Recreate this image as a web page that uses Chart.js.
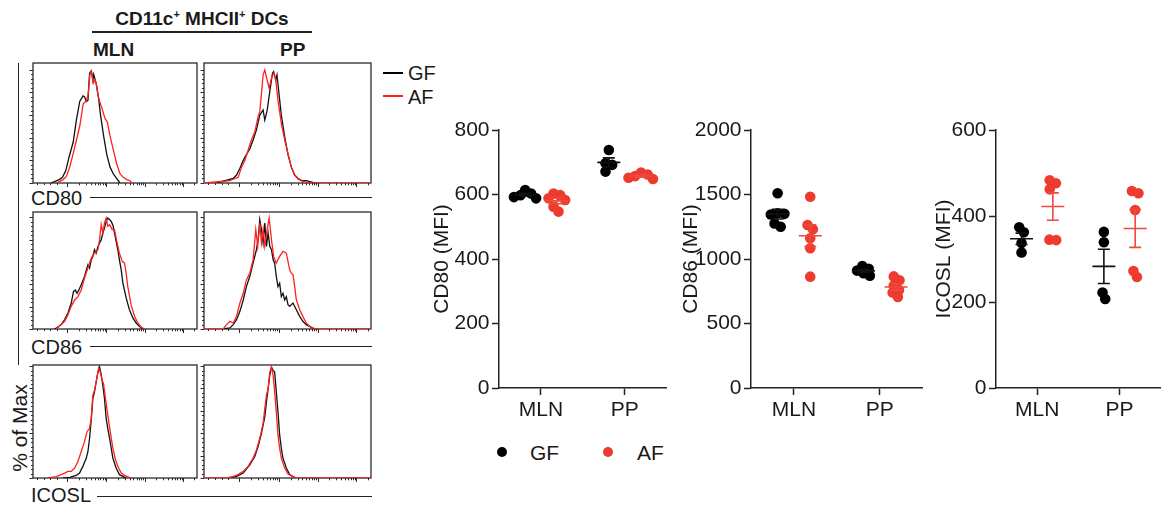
<!DOCTYPE html>
<html>
<head>
<meta charset="utf-8">
<title>CD11c+ MHCII+ DCs</title>
<script src="https://cdn.jsdelivr.net/npm/chart.js@4.4.1/dist/chart.umd.min.js"></script>
<style>
  html, body { margin:0; padding:0; background:#fff; }
  body { position:relative; width:1166px; height:506px; overflow:hidden;
         font-family:"Liberation Sans", Arial, Helvetica, sans-serif; color:#1a1a1a; }
  .txt { position:absolute; white-space:nowrap; line-height:1; }
  .rule { position:absolute; background:#222; }
  canvas { position:absolute; display:block; }
  sup { font-size:11px; line-height:0; vertical-align:7px; }
  .dot { position:absolute; width:10px; height:10px; border-radius:50%; }
</style>
</head>
<body>
<!-- histogram block headings -->
<div class="txt" style="left:92px;top:9px;width:220px;text-align:center;font-weight:bold;font-size:19px;">CD11c<sup>+</sup> MHCII<sup>+</sup> DCs</div>
<div class="rule" style="left:92px;top:31px;width:220px;height:1.5px;"></div>
<div class="txt" style="left:93px;top:40px;font-weight:bold;font-size:19px;">MLN</div>
<div class="txt" style="left:280px;top:40px;font-weight:bold;font-size:19px;">PP</div>

<!-- histogram legend -->
<div class="rule" style="left:383px;top:72px;width:20px;height:2px;background:#000;"></div>
<div class="txt" style="left:408px;top:63px;font-size:20px;">GF</div>
<div class="rule" style="left:383px;top:95px;width:20px;height:2px;background:#ff2020;"></div>
<div class="txt" style="left:408px;top:87px;font-size:20px;">AF</div>

<!-- row labels -->
<div class="txt" style="left:31px;top:188px;font-size:20px;">CD80</div>
<div class="rule" style="left:90px;top:197px;width:282px;height:1.2px;"></div>
<div class="txt" style="left:31px;top:337px;font-size:20px;">CD86</div>
<div class="rule" style="left:90px;top:346px;width:282px;height:1.2px;"></div>
<div class="txt" style="left:31px;top:485px;font-size:20px;">ICOSL</div>
<div class="rule" style="left:97px;top:496px;width:275px;height:1.2px;"></div>
<div class="rule" style="left:17.5px;top:63px;width:1.3px;height:302px;"></div>
<div class="txt" style="left:18.5px;top:428px;font-size:21px;transform:translate(-50%,-50%) rotate(-90deg);">% of Max</div>

<!-- histogram canvases -->
<canvas id="hMLN1" width="170" height="127" style="left:28px;top:62px;"></canvas>
<canvas id="hPP1"  width="173" height="127" style="left:199px;top:62px;"></canvas>
<canvas id="hMLN2" width="170" height="124" style="left:28px;top:211px;"></canvas>
<canvas id="hPP2"  width="173" height="124" style="left:199px;top:211px;"></canvas>
<canvas id="hMLN3" width="170" height="120" style="left:28px;top:364px;"></canvas>
<canvas id="hPP3"  width="173" height="120" style="left:199px;top:364px;"></canvas>

<!-- dot plots -->
<canvas id="cCD80"  width="244" height="318" style="left:428px;top:110px;"></canvas>
<canvas id="cCD86"  width="251" height="318" style="left:677px;top:110px;"></canvas>
<canvas id="cICOSL" width="236" height="318" style="left:930px;top:110px;"></canvas>

<!-- dot plot legend -->
<div class="dot" style="left:497px;top:447px;background:#000;"></div>
<div class="txt" style="left:530px;top:442px;font-size:21px;">GF</div>
<div class="dot" style="left:603px;top:447px;background:#ee3b2f;"></div>
<div class="txt" style="left:637px;top:442px;font-size:21px;">AF</div>

<script>
// ================= DATA =================
// Dot plots: categories and per-mouse MFI values
const dotCategories = ['MLN', 'PP'];
const cd80_GF = { MLN: [614, 603, 598, 592, 588],        PP: [738, 697, 692, 671] };
const cd80_AF = { MLN: [603, 598, 588, 583, 562, 547],   PP: [668, 662, 657, 652, 648] };
const cd86_GF = { MLN: [1510, 1355, 1350, 1345, 1275, 1250], PP: [945, 925, 910, 890, 870] };
const cd86_AF = { MLN: [1483, 1264, 1230, 1160, 1083, 863],  PP: [865, 835, 795, 760, 740, 705] };
const icosl_GF = { MLN: [374, 362, 337, 315],            PP: [363, 339, 222, 207] };
const icosl_AF = { MLN: [483, 476, 462, 345, 344],       PP: [458, 453, 414, 272, 258] };
const cd80Ticks  = { max: 800,  step: 200 };
const cd86Ticks  = { max: 2000, step: 500 };
const icoslTicks = { max: 600,  step: 200 };

// Histograms: x = position on the log fluorescence axis (% of panel width), y = % of max
const mlnCD80_GF_x = [11,16,18,20,22,24.5,26.5,28.5,30.5,31.5,32.5,33.5,34.5,35.5,36.5,37,38.5,40,41,43,45,47,49,51,53];
const mlnCD80_GF_y = [0,3,5,11,23,36,56,72,77,76,72,73,97,99,91,96,88,75,62,42,25,14,8,4,0];
const mlnCD80_AF_x = [14.3,18.4,20.4,22.4,24.5,26.5,28.6,30.6,32.7,33.7,34.7,35.7,36.7,37.8,38.8,39.8,41.8,43.9,45.3,46.9,49,51,53.1,55.1,57.1,59.2,60.2];
const mlnCD80_AF_y = [0,3,6,14,26,38,51,70,73,79,96,98.5,88,91,86,76,67,57,54,42,29,17,8,5,3,2,0];

const ppCD80_GF_x = [7.6,17.5,19.5,21.5,23.5,25.4,27.4,29.4,31.4,33.4,35.4,36.4,37.8,39.4,41,41.7,42.9,43.7,44.9,46.3,48.3,50.3,52.3,54.3,56.3,58.3,61.2,65.2,67.2];
const ppCD80_GF_y = [0,4,7,13,20,25,30,38,47,60,64.5,55.6,64,81,97,98.5,91,95.6,79,60,41,25,14,7,4,2.4,2,0.5,0];
const ppCD80_AF_x = [0,15.5,18.5,20.5,22.5,24.5,26.4,28.4,30.4,32.4,33.4,34.4,35.4,36.4,37.8,39,40.4,41.7,42.9,44.3,46.3,48.3,50.3,52.3,54.3,56.3,58.3,61.2,63.2,100];
const ppCD80_AF_y = [0,2,4,5,14,20,29,38,45,58.6,63,79,95.6,100,91,83.7,92.6,97,92.6,73,52.7,38,26,14,7,3.5,1.8,0.6,0,0];

const mlnCD86_GF_x = [13.2,15.2,17.2,19.3,21.3,23.3,24.7,25.8,26.8,28,29.4,31.4,32.5,33.5,34.5,35.5,36.5,37.5,38.5,39.6,40.6,41.6,42.6,43.6,44.6,45.6,46.7,47.7,48.7,49.7,50.7,51.7,52.7,53.8,54.8,56.8,58.8,60.9,62.9,64.9,66.9];
const mlnCD86_GF_y = [0,1.8,3.9,8.4,14.3,23,33.7,35,32,35,39.7,47,53,57.6,54.6,62,65,71,68,74,77,80,86,90.4,96.4,99.4,98,96.4,93,86,78.5,71,62,53,41,27.8,17.3,9.9,5.4,2.4,0];
const mlnCD86_AF_x = [14.2,17.2,19.3,21.3,23.3,25.4,27.4,29.4,31.4,33.5,35.5,37.5,39.6,40.6,41.6,42.6,43.6,44.6,45.6,46.7,48.3,49.7,51.1,52.7,54.4,55.8,56.8,57.8,59.8,61.9,63.9,65.9,68];
const mlnCD86_AF_y = [0,3.9,6.9,12.8,20.3,26,29,35,45.7,54.6,63.6,68,71,80,93.4,86,95,99.4,92,93.4,89,89,78.5,68,60.6,59,50,38,21.8,11.3,5.4,1.8,0];

const ppCD86_GF_x = [11.5,15.5,17.5,19.5,21.5,23.5,25.4,27.4,29.4,31.4,32.6,33.4,34.4,35.4,36.4,37.4,38.4,39.4,40.4,41.4,42.3,43.3,44.3,45.3,46.3,47.3,48.3,49.3,50.3,51.3,53.3,55.3,57.3,59.2,61.2,63.2,65.2,67.2];
const ppCD86_GF_y = [0,1,3.9,8.4,15.8,26,38,47,59,71,83,98,89,77,95,74,86,74,71,62,59,47,38,41,29,32,26,29,21.8,20.3,23.3,17.3,11.3,6.9,3.9,2.4,0.6,0];
const ppCD86_AF_x = [0,11.5,13.5,15.5,17.5,19.5,21.5,23.5,25.4,27.4,29.4,31,32.2,33.4,34.4,35.4,36.4,37.8,39,40.4,41.7,43.3,45.3,47.3,49.3,51.3,52.3,53.3,54.3,55.3,57.3,59.2,61.2,63.2,65.2,67.2,100];
const ppCD86_AF_y = [0,0,3.9,6.9,5.4,11.3,23.3,32,44,50,62,89,74,95,77,89,74,89,99.4,80,65,59,65,69.6,68,53,50,48.7,38,26,17.3,11.3,5.4,2.4,0.9,0,0];

const mlnICOSL_GF_x = [18.3,22.3,26.4,28.4,30.4,32.5,33.5,34.5,35.5,36.5,37.5,38.5,39.6,40.6,41.6,42.6,43.6,44.6,45.6,46.7,47.7,48.7,50.7,52.7,54.8,56.8];
const mlnICOSL_GF_y = [0,0.6,2.4,4.4,10.4,17.8,23.7,35.5,51.8,71,77,85.8,94.7,99.1,92.3,82.8,71,53.3,44.4,35.5,26.6,17.8,8.9,3,1.5,0];
const mlnICOSL_AF_x = [9.1,14.2,17.2,19.3,21.3,23.3,25.4,27.4,29.4,31.4,32.9,34.5,35.5,36.5,37.5,38.5,40,41,42.2,43,44.2,45.6,47.1,48.7,50.3,51.7,53.8,55.8,58.8,60.9];
const mlnICOSL_AF_y = [0,1.2,3,4.4,5.9,5.9,8.9,14.8,23.7,32.5,41.4,44.4,53.3,74,78.4,85.8,98.2,94.7,87.3,84.3,71,56.2,41.4,26.6,16.3,10.4,4.4,2.4,0.6,0];

const ppICOSL_GF_x = [15.5,19.5,23.5,27.4,30.4,32.4,34.4,36.4,37.4,38.4,39.4,40.4,41.4,42.3,43.3,44.3,45.3,46.3,47.3,49.3,51.3,53.3,55.3];
const ppICOSL_GF_y = [0,1.5,4.4,11.8,19.2,28,40,54.7,68,80,91.7,99.1,96.2,94.7,77,59,38.5,26.6,17.8,8.9,3,1.2,0];
const ppICOSL_AF_x = [0,13.3,17.3,20.3,23.5,26.4,29.4,31.4,33.4,35.4,36.4,37.4,38.4,39.4,40.4,41.4,42.3,43.3,44.3,45.3,46.3,48.3,50.3,53.3,55.3,100];
const ppICOSL_AF_y = [0,0,1.2,3,5.9,10.4,17.8,25,35.5,48.8,62,74,80,94.7,99.1,91.7,77,59,38.5,26.6,17.8,8.9,3.6,1.2,0,0];

// Histogram axes
const histYMax = [106, 104.8, 101];          // top of each row's % of Max axis
const histYTicks = [0,4,8,12,16,20,24,28,32,36,40,44,48,52,56,60,64,68,72,76,80,84,88,92,96,100];
const histXDecades = [21, 44.7, 68, 91.3];   // decade ticks on the log axis
const histXLinear = [2.5, 6.5, 10.5, 14.5];  // ticks of the linear (low) region

// ================= STYLE =================
const INK = '#1a1a1a';
const GF_COLOR = '#000000';
const AF_COLOR = '#ee3b2f';
const HIST_GF = '#111111';
const HIST_AF = '#ff2020';
const FONT = '"Liberation Sans", Arial, Helvetica, sans-serif';

// ================= HISTOGRAMS =================
const flowFrame = {
  id: 'flowFrame',
  beforeDatasetsDraw(chart) {
    const { ctx, chartArea: a, scales: { x, y } } = chart;
    ctx.save();
    ctx.strokeStyle = '#2b2b2b';
    ctx.lineWidth = 1.3;
    ctx.strokeRect(a.left, a.top, a.right - a.left, a.bottom - a.top);
    ctx.lineWidth = 1;
    ctx.beginPath();
    histYTicks.forEach(v => {
      const py = Math.round(y.getPixelForValue(v)) + 0.5;
      const len = (v % 20 === 0) ? 3.5 : 2;
      ctx.moveTo(a.left, py); ctx.lineTo(a.left - len, py);
    });
    const xt = histXLinear.map(v => [v, 2]);
    const dw = histXDecades[1] - histXDecades[0];
    histXDecades.forEach(d => {
      xt.push([d, 4]);
      for (let k = 2; k <= 9; k++) xt.push([d + dw * Math.log10(k), 2.3]);
    });
    xt.forEach(([v, len]) => {
      if (v > 100) return;
      const px = Math.round(x.getPixelForValue(v)) + 0.5;
      ctx.moveTo(px, a.bottom); ctx.lineTo(px, a.bottom + len);
    });
    ctx.stroke();
    ctx.restore();
  }
};

function histChart(id, gfX, gfY, afX, afY, ymax) {
  const pts = (xs, ys) => xs.map((v, i) => ({ x: v, y: ys[i] }));
  return new Chart(document.getElementById(id), {
    type: 'line',
    data: { datasets: [
      { label: 'AF', data: pts(afX, afY), borderColor: HIST_AF, borderWidth: 1.3, pointRadius: 0, tension: 0, fill: false, order: 0 },
      { label: 'GF', data: pts(gfX, gfY), borderColor: HIST_GF, borderWidth: 1.3, pointRadius: 0, tension: 0, fill: false, order: 1 }
    ]},
    options: {
      animation: false, responsive: false, events: [],
      layout: { padding: { left: 5, right: 1, top: 1, bottom: 6 } },
      plugins: { legend: { display: false }, tooltip: { enabled: false } },
      scales: {
        x: { type: 'linear', min: 0, max: 100, display: false },
        y: { type: 'linear', min: 0, max: ymax, display: false }
      }
    },
    plugins: [flowFrame]
  });
}

histChart('hMLN1', mlnCD80_GF_x, mlnCD80_GF_y, mlnCD80_AF_x, mlnCD80_AF_y, histYMax[0]);
histChart('hPP1',  ppCD80_GF_x,  ppCD80_GF_y,  ppCD80_AF_x,  ppCD80_AF_y,  histYMax[0]);
histChart('hMLN2', mlnCD86_GF_x, mlnCD86_GF_y, mlnCD86_AF_x, mlnCD86_AF_y, histYMax[1]);
histChart('hPP2',  ppCD86_GF_x,  ppCD86_GF_y,  ppCD86_AF_x,  ppCD86_AF_y,  histYMax[1]);
histChart('hMLN3', mlnICOSL_GF_x, mlnICOSL_GF_y, mlnICOSL_AF_x, mlnICOSL_AF_y, histYMax[2]);
histChart('hPP3',  ppICOSL_GF_x,  ppICOSL_GF_y,  ppICOSL_AF_x,  ppICOSL_AF_y,  histYMax[2]);

// ================= DOT PLOTS =================
const meanSem = vals => {
  const n = vals.length;
  const m = vals.reduce((s, v) => s + v, 0) / n;
  const sd = Math.sqrt(vals.reduce((s, v) => s + (v - m) * (v - m), 0) / (n - 1));
  return { m, sem: sd / Math.sqrt(n) };
};

const errBars = {
  id: 'errBars',
  afterDatasetsDraw(chart) {
    const { ctx, scales: { x, y } } = chart;
    ctx.save();
    ctx.lineWidth = 1.6;
    chart.data.datasets.forEach(ds => {
      ctx.strokeStyle = ds.barColor;
      dotCategories.forEach((c, ci) => {
        const { m, sem } = meanSem(ds.groups[c]);
        const cx = x.getPixelForValue(ci + ds.shift);
        const ym = y.getPixelForValue(m), yt = y.getPixelForValue(m + sem), yb = y.getPixelForValue(m - sem);
        ctx.beginPath();
        ctx.moveTo(cx - 11.5, ym); ctx.lineTo(cx + 11.5, ym);
        ctx.moveTo(cx, yt); ctx.lineTo(cx, yb);
        ctx.moveTo(cx - 6, yt); ctx.lineTo(cx + 6, yt);
        ctx.moveTo(cx - 6, yb); ctx.lineTo(cx + 6, yb);
        ctx.stroke();
      });
    });
    ctx.restore();
  }
};

// arrange overlapping dots side by side (beeswarm), using the chart's own scales
function swarm(chart) {
  const xs = chart.scales.x, ys = chart.scales.y;
  const d = 7;
  chart.data.datasets.forEach(ds => {
    ds.data = [];
    dotCategories.forEach((c, ci) => {
      const vals = ds.groups[c];
      const cx = xs.getPixelForValue(ci + ds.shift);
      const order = vals.map((v, i) => i).sort((a, b) => vals[b] - vals[a]);
      const placed = [];
      order.forEach(i => {
        const py = ys.getPixelForValue(vals[i]);
        const bans = [];
        placed.forEach(p => {
          const dy = Math.abs(p.y - py);
          if (dy < d) { const w = Math.sqrt(d * d - dy * dy); bans.push([p.dx - w, p.dx + w, p]); }
        });
        const cands = [0];
        bans.forEach(b => cands.push(b[0], b[1]));
        cands.sort((a, b) => (Math.abs(a) - Math.abs(b)) || (b - a));
        const dx = cands.find(cd => bans.every(b => cd <= b[0] + 1e-6 || cd >= b[1] - 1e-6));
        placed.push({ y: py, dx, v: vals[i], links: bans.map(b => b[2]) });
      });
      // re-centre each cluster of touching dots
      const seen = new Set();
      placed.forEach(p => {
        if (seen.has(p)) return;
        const comp = [], stack = [p];
        while (stack.length) {
          const q = stack.pop();
          if (seen.has(q)) continue;
          seen.add(q); comp.push(q);
          placed.forEach(r => { if (!seen.has(r) && (q.links.includes(r) || r.links.includes(q))) stack.push(r); });
        }
        const lo = Math.min(...comp.map(q => q.dx)), hi = Math.max(...comp.map(q => q.dx));
        const sh = (lo + hi) / 2;
        comp.forEach(q => { q.dx -= sh; });
      });
      placed.forEach(p => ds.data.push({ x: xs.getValueForPixel(cx + p.dx), y: p.v }));
    });
  });
  chart.update('none');
}

function dotChart(id, title, gf, af, tk, axisWidth) {
  const tickFont = { family: FONT, size: 21 };
  const chart = new Chart(document.getElementById(id), {
    type: 'scatter',
    data: { datasets: [
      { label: 'GF', groups: gf, shift: -0.19, data: [], backgroundColor: GF_COLOR, barColor: '#111',
        pointRadius: 5.3, pointBorderWidth: 0, pointHoverRadius: 5.3 },
      { label: 'AF', groups: af, shift: 0.19, data: [], backgroundColor: AF_COLOR, barColor: '#f04a3f',
        pointRadius: 5.3, pointBorderWidth: 0, pointHoverRadius: 5.3 }
    ]},
    options: {
      animation: false, responsive: false, events: [],
      layout: { padding: { left: 0, right: 2, top: 20, bottom: 0 } },
      plugins: { legend: { display: false }, tooltip: { enabled: false } },
      scales: {
        x: {
          type: 'linear', min: -0.5, max: 1.5,
          afterBuildTicks: s => { s.ticks = dotCategories.map((c, i) => ({ value: i })); },
          afterFit: s => { s.height = 40; },
          ticks: { callback: v => dotCategories[v], font: tickFont, color: INK, padding: 3, autoSkip: false, maxRotation: 0 },
          grid: { drawOnChartArea: false, drawTicks: true, tickLength: 7, tickColor: '#222', tickWidth: 1.5 },
          border: { display: true, color: '#222', width: 1.5 }
        },
        y: {
          type: 'linear', min: 0, max: tk.max,
          afterFit: s => { s.width = axisWidth; },
          ticks: { stepSize: tk.step, callback: v => String(v), font: tickFont, color: INK, padding: 2.5 },
          grid: { drawOnChartArea: false, drawTicks: true, tickLength: 7, tickColor: '#222', tickWidth: 1.5 },
          border: { display: true, color: '#222', width: 1.5 },
          title: { display: true, text: title, font: tickFont, color: INK, padding: { top: 1.5, bottom: 0 } }
        }
      }
    },
    plugins: [errBars]
  });
  swarm(chart);
  return chart;
}

dotChart('cCD80',  'CD80 (MFI)',  cd80_GF,  cd80_AF,  cd80Ticks,  71);
dotChart('cCD86',  'CD86 (MFI)',  cd86_GF,  cd86_AF,  cd86Ticks,  74);
dotChart('cICOSL', 'ICOSL (MFI)', icosl_GF, icosl_AF, icoslTicks, 66);
</script>
</body>
</html>
